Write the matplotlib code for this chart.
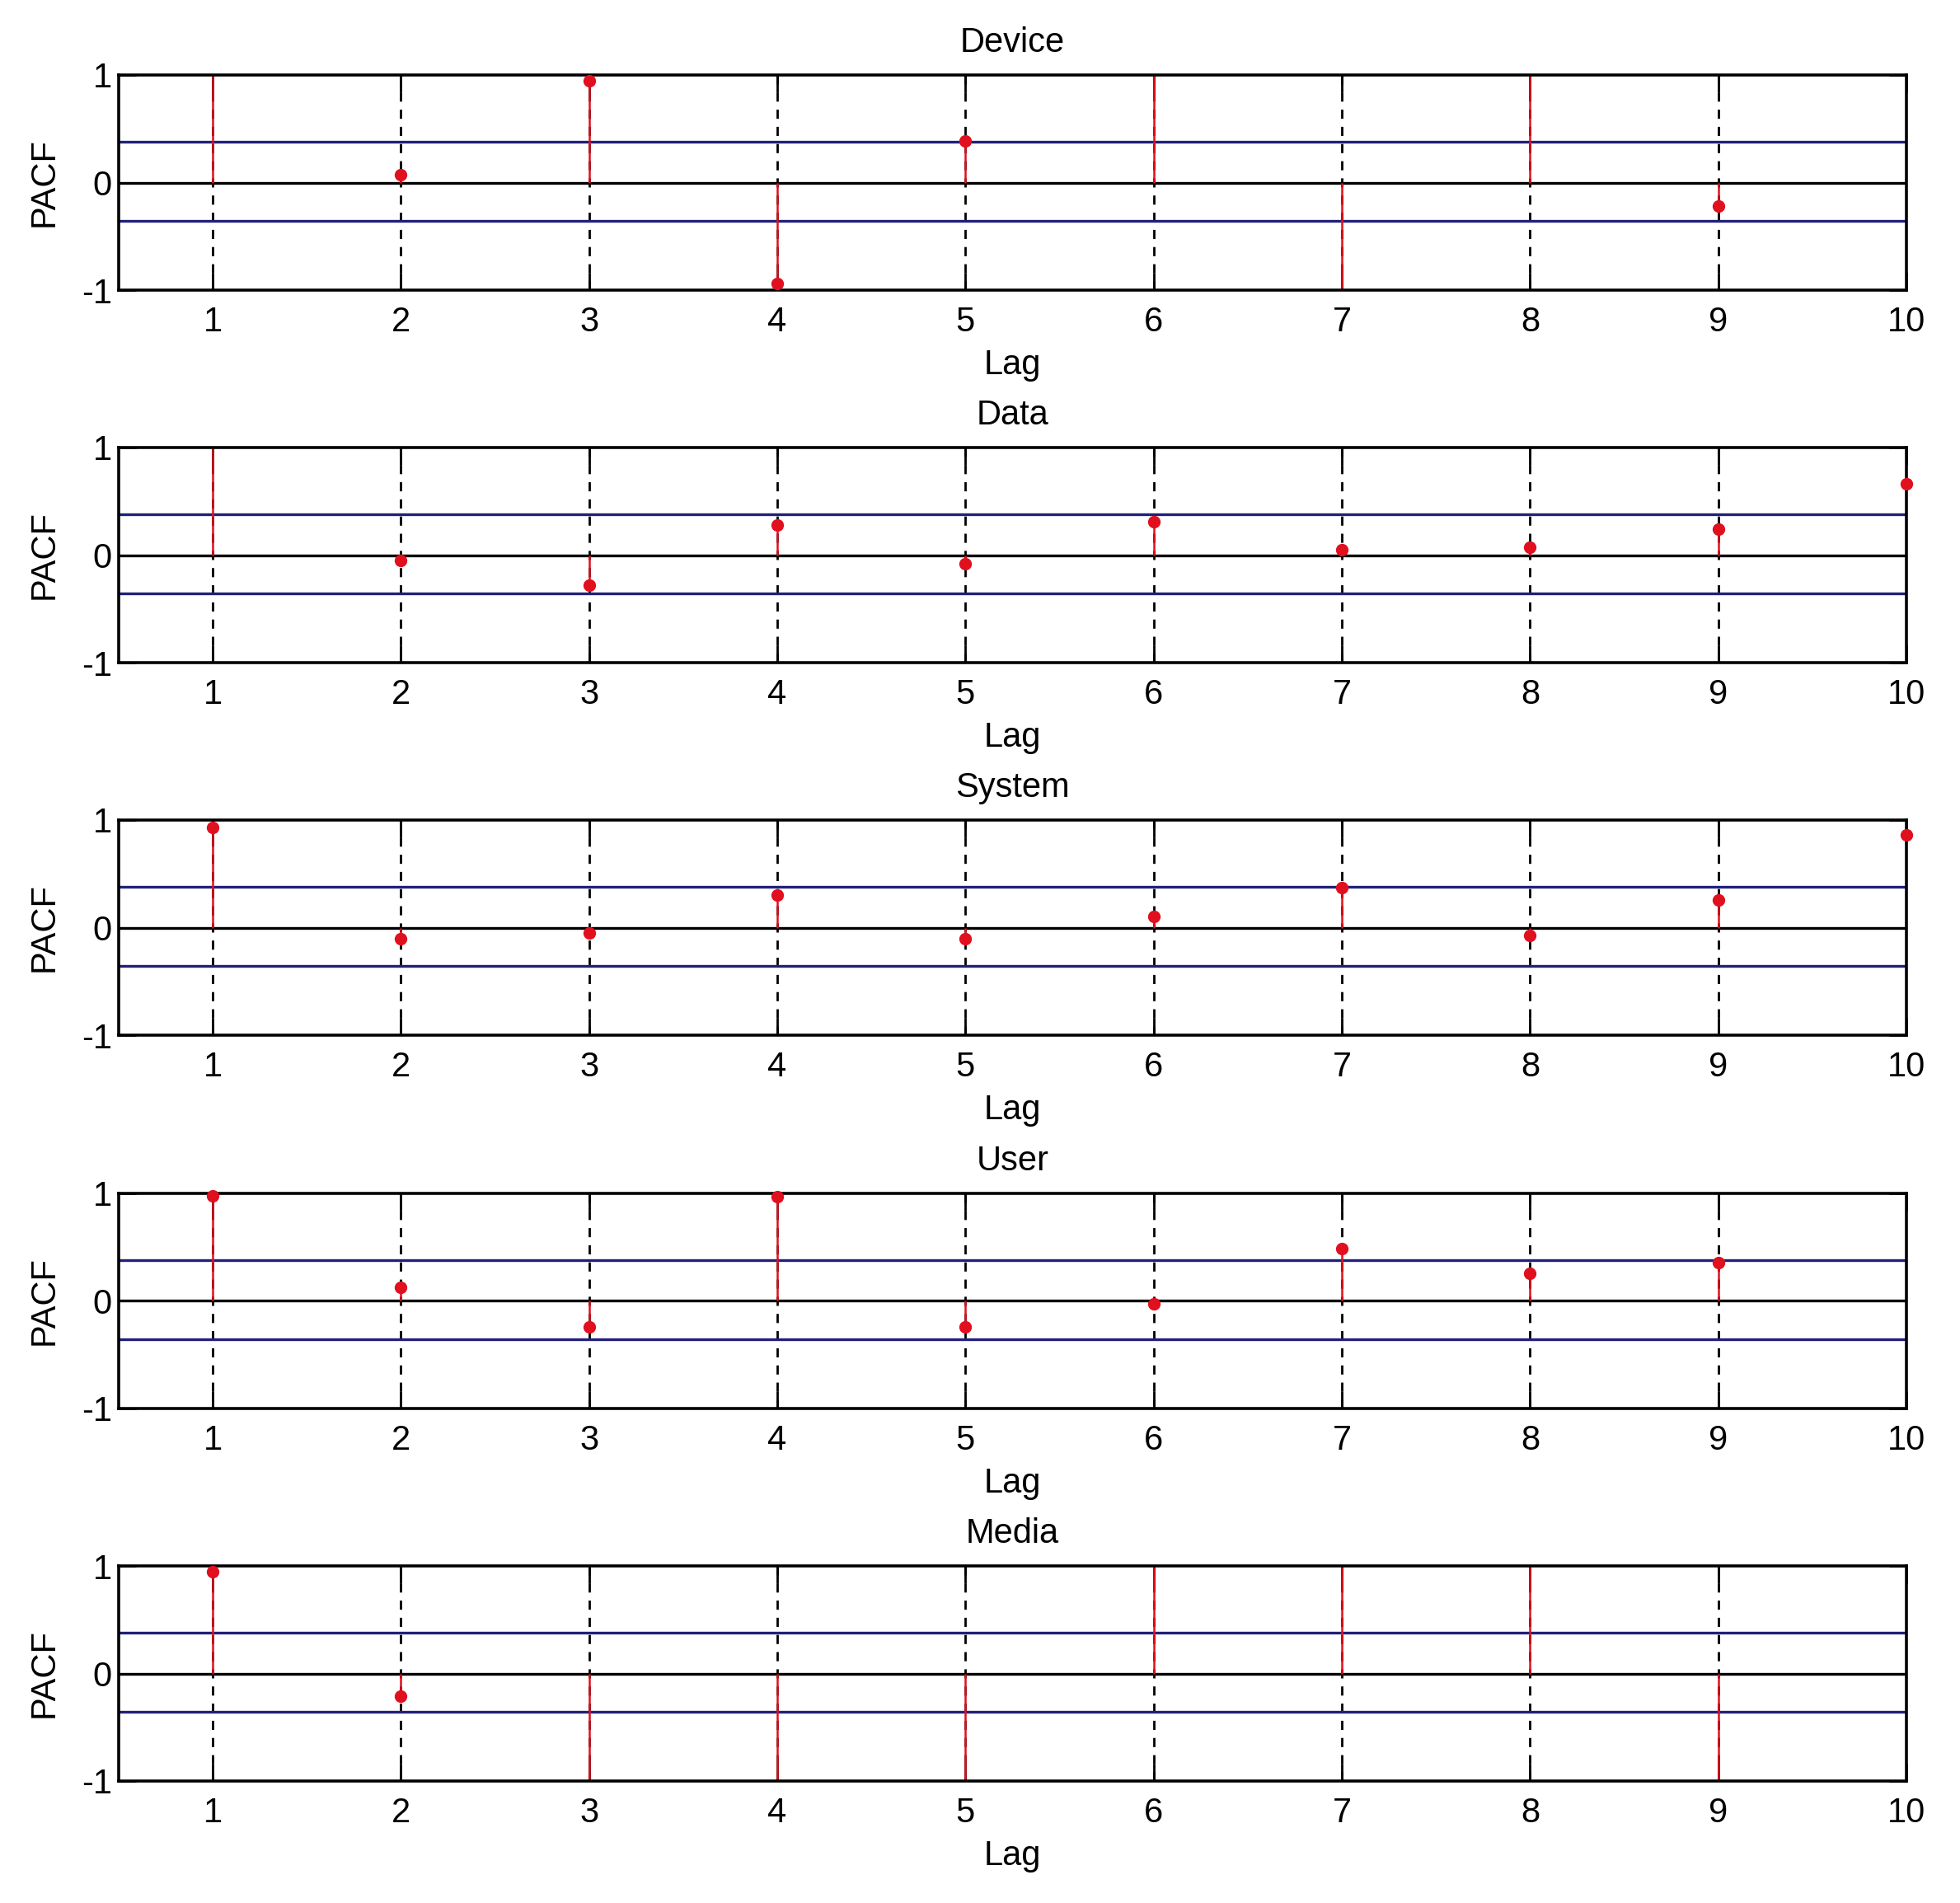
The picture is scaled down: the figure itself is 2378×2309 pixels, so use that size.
import matplotlib
matplotlib.use("Agg")
import matplotlib.pyplot as plt
import numpy as np

plt.rcParams['font.family'] = ['Liberation Sans Narrow', 'Liberation Sans', 'DejaVu Sans']

lags = [1, 2, 3, 4, 5, 6, 7, 8, 9, 10]
titles = ["Device", "Data", "System", "User", "Media"]

# PACF values (values beyond +-1 run off the axes)
pacf_device = [1.5, 0.07, 0.95, -0.94, 0.39, 1.5, -1.5, 1.5, -0.22, 1.5]
pacf_data = [1.5, -0.05, -0.28, 0.28, -0.08, 0.31, 0.05, 0.07, 0.24, 0.66]
pacf_system = [0.93, -0.10, -0.05, 0.30, -0.10, 0.10, 0.37, -0.07, 0.26, 0.86]
pacf_user = [0.98, 0.13, -0.24, 0.97, -0.24, -0.03, 0.49, 0.26, 0.36, 1.5]
pacf_media = [0.95, -0.21, -1.5, -1.5, -1.5, 1.5, 1.5, 1.5, -1.5, 1.5]
series = [pacf_device, pacf_data, pacf_system, pacf_user, pacf_media]

upper_bound = 0.38
lower_bound = -0.355

W, H = 2378, 2309
fig = plt.figure(figsize=(W / 100, H / 100), dpi=100)

left_px, right_px = 144, 2313
tops_px = [91, 543, 995, 1448, 1900]
height_px = 261

navy = '#22207a'
red = '#e0101e'
for i in range(5):
    t = tops_px[i]
    ax = fig.add_axes([left_px / W, 1 - (t + height_px) / H,
                       (right_px - left_px) / W, height_px / H])
    vals = np.array(series[i])
    ax.set_xlim(0.5, 10)
    ax.set_ylim(-1, 1)
    for x in lags:
        ax.axvline(x, color='black', lw=2.0, linestyle=(0, (4, 3.5)), zorder=1)
    ax.axhline(0, color='black', lw=2.4, zorder=2)
    ax.axhline(upper_bound, color=navy, lw=2.4, zorder=2)
    ax.axhline(lower_bound, color=navy, lw=2.4, zorder=2)
    ax.vlines(lags, 0, vals, color=red, lw=1.8, zorder=3)
    # markers only where the value lies inside the plotted range
    shown = np.where(np.abs(vals) <= 1, vals, np.nan)
    ax.plot(lags, shown, 'o', color=red, markersize=10, zorder=6, clip_on=False)
    ax.set_xticks(lags)
    ax.set_yticks([-1, 0, 1])
    ax.set_yticklabels(['-1', '0', '1'])
    ax.tick_params(direction='in', length=15, width=2, top=True, right=True,
                   labelsize=30, colors='black')
    ax.tick_params(axis='x', pad=14)
    ax.tick_params(axis='y', pad=6)
    for s in ax.spines.values():
        s.set_linewidth(2.6)
        s.set_zorder(5)
    ax.set_title(titles[i], fontsize=30, pad=20)
    ax.set_xlabel("Lag", fontsize=30, labelpad=8)
    ax.set_ylabel("PACF", fontsize=30, labelpad=18)

fig.savefig("out.png", dpi=100, facecolor='white')
